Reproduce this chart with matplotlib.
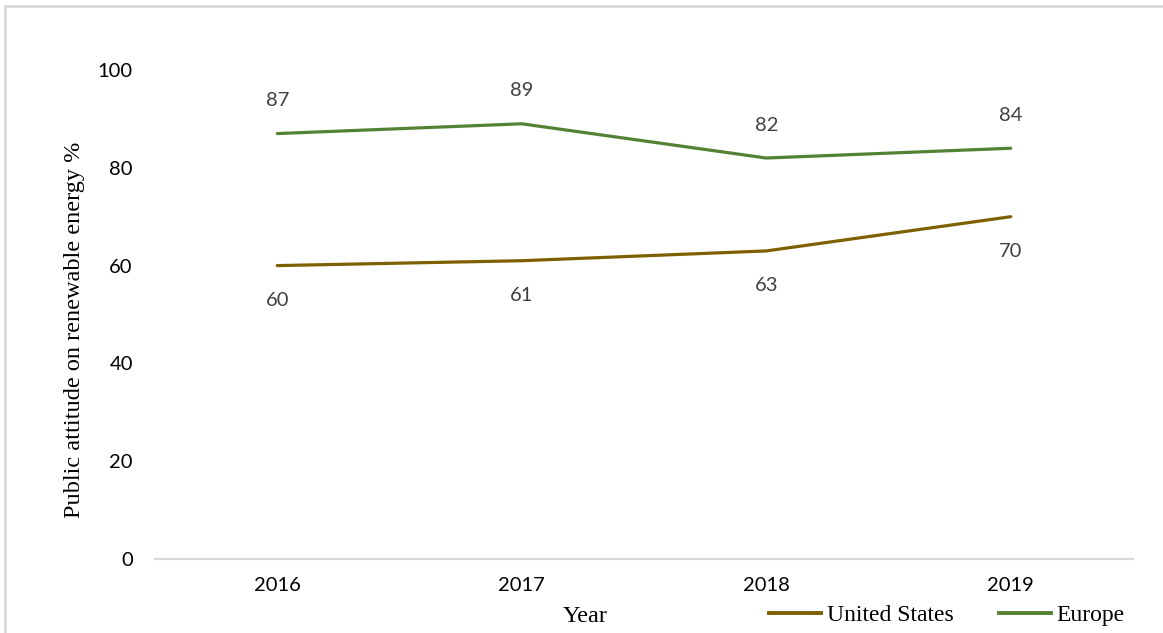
import matplotlib
matplotlib.use("Agg")
import matplotlib.pyplot as plt
from matplotlib.patches import Rectangle
from matplotlib.lines import Line2D

years = ["2016", "2017", "2018", "2019"]
us_values = [60, 61, 63, 70]
europe_values = [87, 89, 82, 84]
y_ticks = [0, 20, 40, 60, 80, 100]

W, H = 1163, 633
fig = plt.figure(figsize=(W / 100, H / 100), dpi=100)

# chart border
fig.patches.append(Rectangle((5 / W, -0.1), 1.2, 1 - 6 / H + 0.1, transform=fig.transFigure,
                             fill=False, edgecolor="#D9D9D9", linewidth=2))

left, right = 155 / W, 1133 / W
bottom, top = 1 - 559 / H, 1 - 70 / H
ax = fig.add_axes([left, bottom, right - left, top - bottom])

x = list(range(len(years)))
us_color = "#7F6000"
eu_color = "#548235"
ax.plot(x, us_values, color=us_color, linewidth=2.3, solid_capstyle="round")
ax.plot(x, europe_values, color=eu_color, linewidth=2.3, solid_capstyle="round")

tick_font = "Lato"
fs = 14.5
for xi, v in zip(x, us_values):
    ax.annotate(str(v), (xi, v), xytext=(0, -35), textcoords="offset pixels",
                ha="center", va="center", fontsize=fs, color="#404040", family=tick_font)
for xi, v in zip(x, europe_values):
    ax.annotate(str(v), (xi, v), xytext=(0, 33), textcoords="offset pixels",
                ha="center", va="center", fontsize=fs, color="#404040", family=tick_font)

ax.set_xlim(-0.5, 3.5)
ax.set_ylim(0, 100)
ax.set_yticks(y_ticks)
ax.set_yticklabels([str(t) for t in y_ticks], family=tick_font, fontsize=fs)
ax.set_xticks(x)
ax.set_xticklabels(years, family=tick_font, fontsize=fs)
ax.tick_params(axis="both", length=0)
ax.tick_params(axis="y", pad=16)
ax.tick_params(axis="x", pad=13)
for s in ["top", "right", "left"]:
    ax.spines[s].set_visible(False)
ax.spines["bottom"].set_color("#D9D9D9")
ax.spines["bottom"].set_linewidth(1.5)

fig.text(75 / W, 1 - 330 / H, "Public attitude on renewable energy %", rotation=90,
         ha="center", va="center", family="Liberation Serif", fontsize=17.5)
fig.text(585 / W, 1 - 617 / H, "Year", ha="center", va="center",
         family="Liberation Serif", fontsize=17.5)

handles = [Line2D([], [], color=us_color, linewidth=2.8),
           Line2D([], [], color=eu_color, linewidth=2.8)]
leg = fig.legend(handles, ["United States", "Europe"], loc="center",
                 bbox_to_anchor=(947 / W, 1 - 615 / H), ncol=2, frameon=False,
                 prop={"family": "Liberation Serif", "size": 17},
                 handlelength=2.2, handletextpad=0.25, columnspacing=1.9,
                 borderpad=0, borderaxespad=0)

fig.savefig("out.png", dpi=100)
